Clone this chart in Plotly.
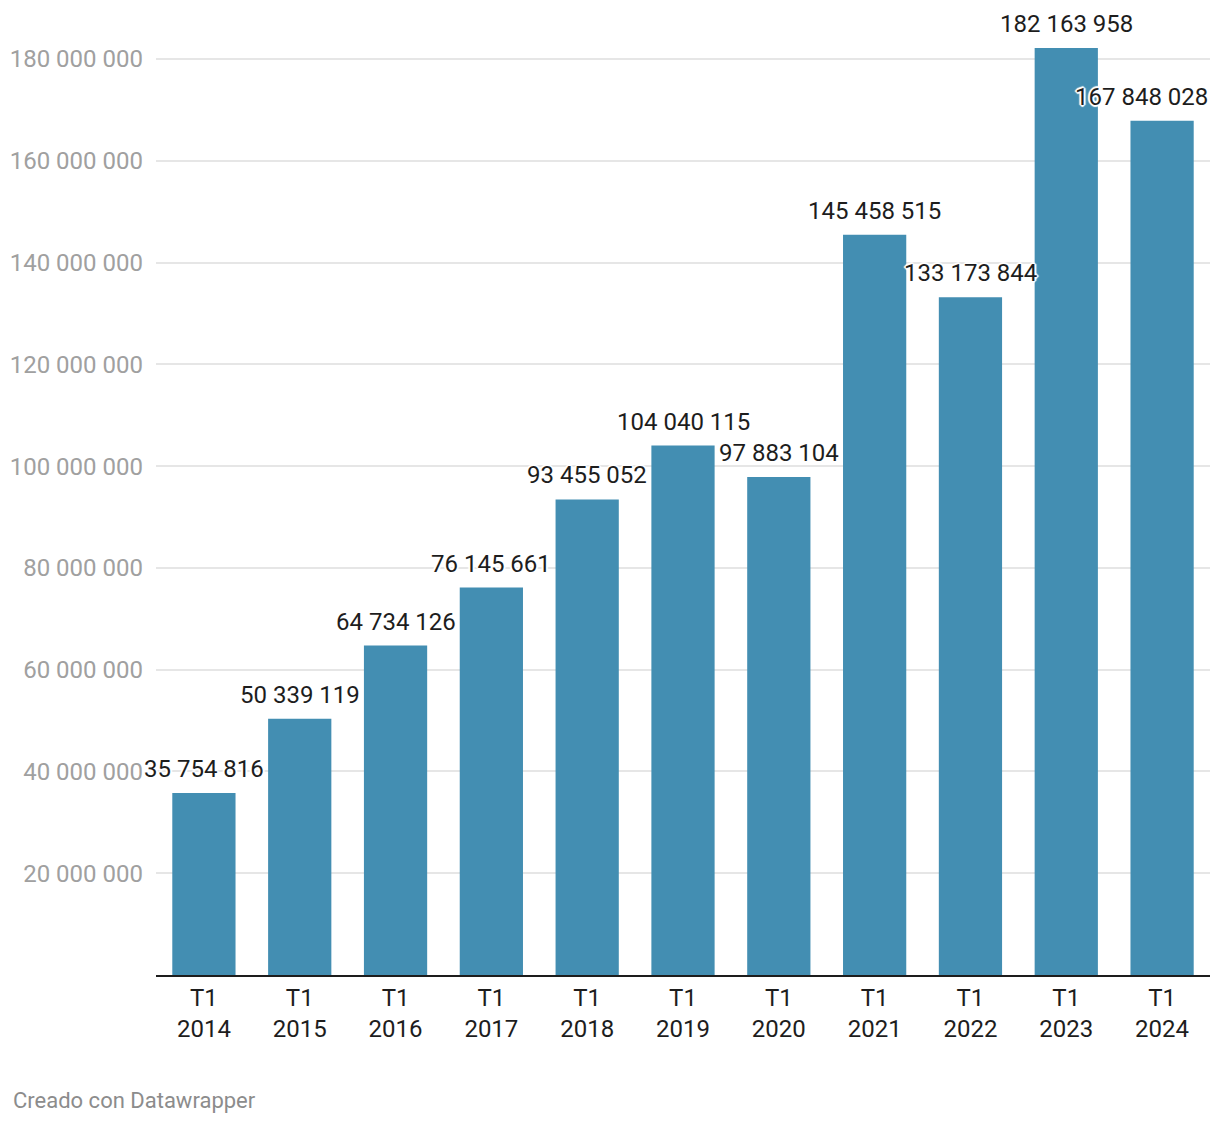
import plotly.graph_objects as go

categories = ["T1<br>2014", "T1<br>2015", "T1<br>2016", "T1<br>2017", "T1<br>2018", "T1<br>2019",
              "T1<br>2020", "T1<br>2021", "T1<br>2022", "T1<br>2023", "T1<br>2024"]
values = [35754816, 50339119, 64734126, 76145661, 93455052, 104040115,
          97883104, 145458515, 133173844, 182163958, 167848028]
y_tickvals = [20000000, 40000000, 60000000, 80000000, 100000000, 120000000, 140000000, 160000000, 180000000]
y_ticktext = ["20 000 000", "40 000 000", "60 000 000", "80 000 000", "100 000 000",
              "120 000 000", "140 000 000", "160 000 000", "180 000 000"]


def fmt(v):
    return f"{v:,}".replace(",", " ")


BAR = "#438eb2"
FONT = "Roboto"

fig = go.Figure()
fig.add_trace(go.Bar(x=categories, y=values, marker=dict(color=BAR, line=dict(width=0)),
                     hoverinfo="skip"))

halo = "2px 0 1px white, -2px 0 1px white, 0 2px 1px white, 0 -2px 1px white, 1px 1px 1px white, -1px -1px 1px white, 1px -1px 1px white, -1px 1px 1px white"
n = len(categories)
for i, (c, v) in enumerate(zip(categories, values)):
    last = i == n - 1
    fig.add_annotation(x=c, y=v, text=fmt(v), showarrow=False,
                       xanchor="right" if last else "center",
                       xshift=48 if last else 0,
                       yanchor="middle", yshift=24,
                       font=dict(family=FONT, size=24, color="#1d1d1d", shadow=halo))

fig.add_annotation(xref="paper", yref="paper", x=(11 - 156) / 1054, y=-125 / 945,
                   xanchor="left", yanchor="middle",
                   text="Creado con Datawrapper", showarrow=False,
                   font=dict(family=FONT, size=22, color="#8c8c8c"))

ymax = 945 / (916 / 180000000)
fig.update_layout(
    width=1220, height=1124,
    margin=dict(l=156, r=10, t=30, b=149),
    paper_bgcolor="white", plot_bgcolor="white",
    bargap=0.34,
    showlegend=False,
    font=dict(family=FONT),
    xaxis=dict(range=[-0.5, n - 0.5], showgrid=False, showline=True, linecolor="#1d1d1d", linewidth=2,
               ticks="", tickfont=dict(family=FONT, size=24, color="#1d1d1d"),
               automargin=False, fixedrange=True),
    yaxis=dict(range=[0, ymax], tickvals=y_tickvals, ticktext=y_ticktext,
               showgrid=True, gridcolor="#e6e6e6", gridwidth=2, zeroline=False,
               showline=False, ticks="", ticklabelstandoff=12, automargin=False,
               tickfont=dict(family=FONT, size=24, color="#a0a0a0"), fixedrange=True),
)

fig.write_html("out.html", config={"displayModeBar": False})
